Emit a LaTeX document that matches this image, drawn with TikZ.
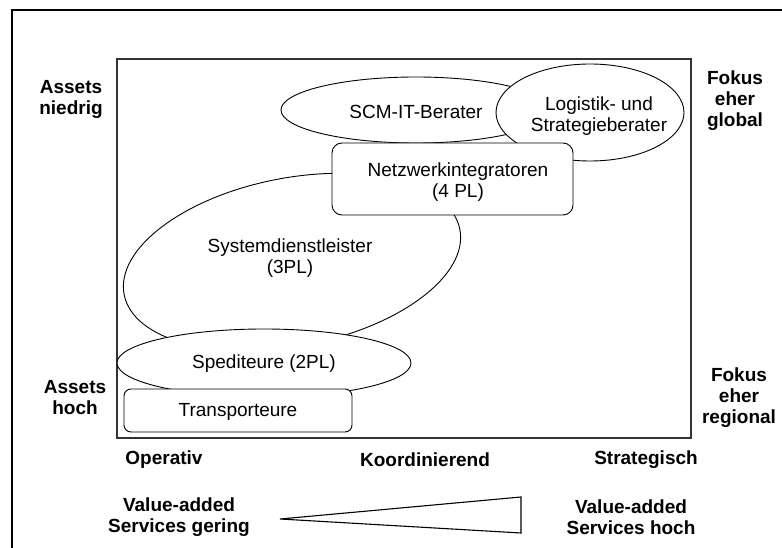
\documentclass[tikz,border=0pt]{standalone}
\usepackage{fontspec}
\setmainfont{Liberation Sans}
\usetikzlibrary{shapes.geometric}
\begin{document}
\begin{tikzpicture}[x=1pt,y=-1pt,
  every node/.style={font=\fontsize{19}{21}\selectfont, align=center, inner sep=0pt},
  axislabel/.style={font=\fontsize{19}{21}\selectfont\bfseries},
  ell/.style={draw=black, line width=0.9pt, fill=white, ellipse},
  rbox/.style={draw=black, line width=0.9pt, fill=white, rounded corners=10pt},
]
\useasboundingbox (0,0) rectangle (782,548);
% outer frame (top and left edges)
\coordinate (ftl) at (12,10);
\coordinate (ftr) at (782,10);
\coordinate (fbl) at (12,548);
\draw[line width=2pt] (fbl) -- (ftl) -- (ftr);
% inner field
\draw[draw=black!80, line width=1.1pt] (117,59) rectangle (691,438);
% Systemdienstleister (tilted ellipse)
\draw[line width=0.9pt, fill=white] (292,262) ellipse [x radius=171, y radius=84, rotate=11];
\node (tpl) at (290,258) {Systemdienstleister\\(3PL)};
% SCM-IT-Berater
\node[ell, minimum width=270pt, minimum height=66pt] (scm) at (416,110) {};
\node (scmt) at (416,112) {SCM-IT-Berater};
% Logistik- und Strategieberater
\node[ell, minimum width=188pt, minimum height=97pt] (log) at (590,112.5) {};
\node (logt) at (599,116) {Logistik- und\\Strategieberater};
% Netzwerkintegratoren
\draw[rbox] (332,143) rectangle (573,215);
\node (netz) at (458,182) {Netzwerkintegratoren\\(4 PL)};
% Spediteure
\node[ell, minimum width=294pt, minimum height=68pt] (sped) at (264,363) {};
\node (spedt) at (264,364) {Spediteure (2PL)};
% Transporteure
\draw[rbox, rounded corners=7pt] (124,389) rectangle (352,432);
\node (trans) at (238,412) {Transporteure};
% axis labels
\node[axislabel] (an) at (71,99) {Assets\\niedrig};
\node[axislabel] (ah) at (75,398) {Assets\\hoch};
\node[axislabel] (fg) at (735,101) {Fokus\\eher\\global};
\node[axislabel] (fr) at (739,398) {Fokus\\eher\\regional};
\node[axislabel] (op) at (164,460) {Operativ};
\node[axislabel] (ko) at (425,460) {Koordinierend};
\node[axislabel] (st) at (646,460) {Strategisch};
\node[axislabel] (vg) at (179,517) {Value-added\\Services gering};
\node[axislabel] (vh) at (631,517) {Value-added\\Services hoch};
% wedge
\coordinate (wl) at (280,519);
\coordinate (wt) at (521,497);
\coordinate (wb) at (521,533);
\draw[line width=1.1pt, line join=miter] (wl) -- (wt) -- (wb) -- cycle;
\end{tikzpicture}
\end{document}
